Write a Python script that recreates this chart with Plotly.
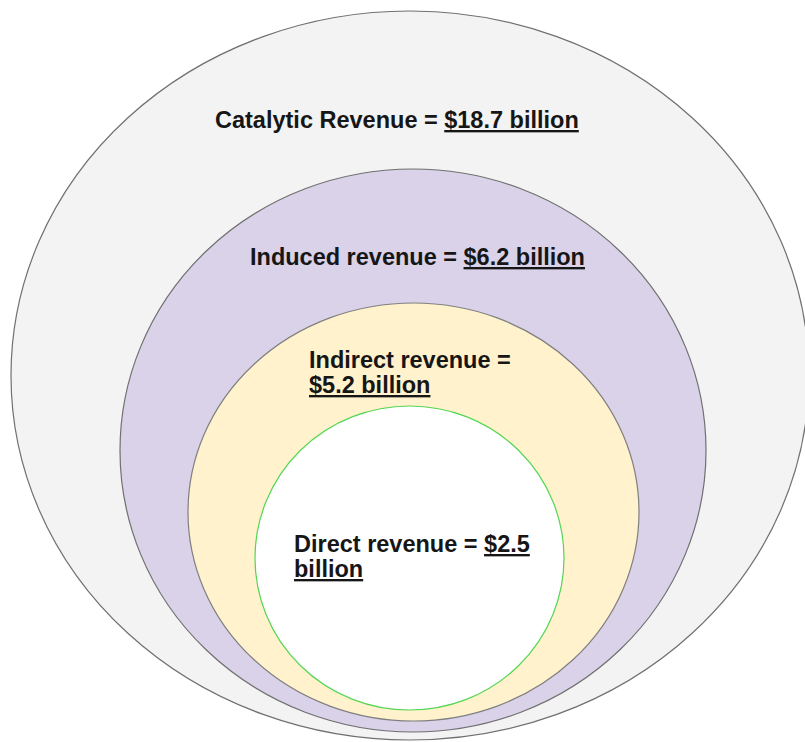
import plotly.graph_objects as go

# Revenue tiers, outermost first
labels = ["Catalytic Revenue", "Induced revenue", "Indirect revenue", "Direct revenue"]
values = [18.7, 6.2, 5.2, 2.5]  # $ billion

# Nested ellipses in pixel space (x0, x1, y0, y1), outermost first
ellipses = [
    (11, 809, 11, 740),
    (120, 706, 169, 732),
    (188, 639, 303, 721),
    (255, 564, 406, 710),
]
fills = ["#f3f3f3", "#d9d2e9", "#fff2cc", "#ffffff"]
edges = ["#707070", "#707070", "#808080", "#55d655"]

W, H = 805, 742
FONT = "Liberation Sans, Arial, sans-serif"
SIZE = 23.5

fig = go.Figure()
fig.add_trace(go.Scatter(x=[0, W], y=[0, H], mode="markers",
                         marker=dict(opacity=0), hoverinfo="skip", showlegend=False))

for (x0, x1, y0, y1), fc, ec in zip(ellipses, fills, edges):
    fig.add_shape(type="circle", xref="x", yref="y", x0=x0, x1=x1, y0=y0, y1=y1,
                  fillcolor=fc, line=dict(color=ec, width=1.2), layer="below")

# Label lines: (text, left x, centre y)
amount = [f"<u>${v} billion</u>" for v in values]
lines = [
    (f"{labels[0]} = {amount[0]}", 213, 120),
    (f"{labels[1]} = {amount[1]}", 248, 257),
    (f"{labels[2]} =", 307, 360),
    (amount[2], 307, 385),
    (f"{labels[3]} = <u>${values[3]}</u>", 292, 544),
    ("<u>billion</u>", 292, 569),
]
for txt, x, y in lines:
    fig.add_annotation(x=x, y=y, xref="x", yref="y", text=f"<b>{txt}</b>",
                       showarrow=False, xanchor="left", yanchor="middle",
                       align="left", font=dict(family=FONT, size=SIZE, color="#161616"))

fig.update_xaxes(range=[0, W], visible=False, fixedrange=True)
fig.update_yaxes(range=[H, 0], visible=False, fixedrange=True)
fig.update_layout(width=W, height=H, margin=dict(l=0, r=0, t=0, b=0),
                  paper_bgcolor="white", plot_bgcolor="white", showlegend=False)

fig.write_html("out.html", config={"displayModeBar": False})
